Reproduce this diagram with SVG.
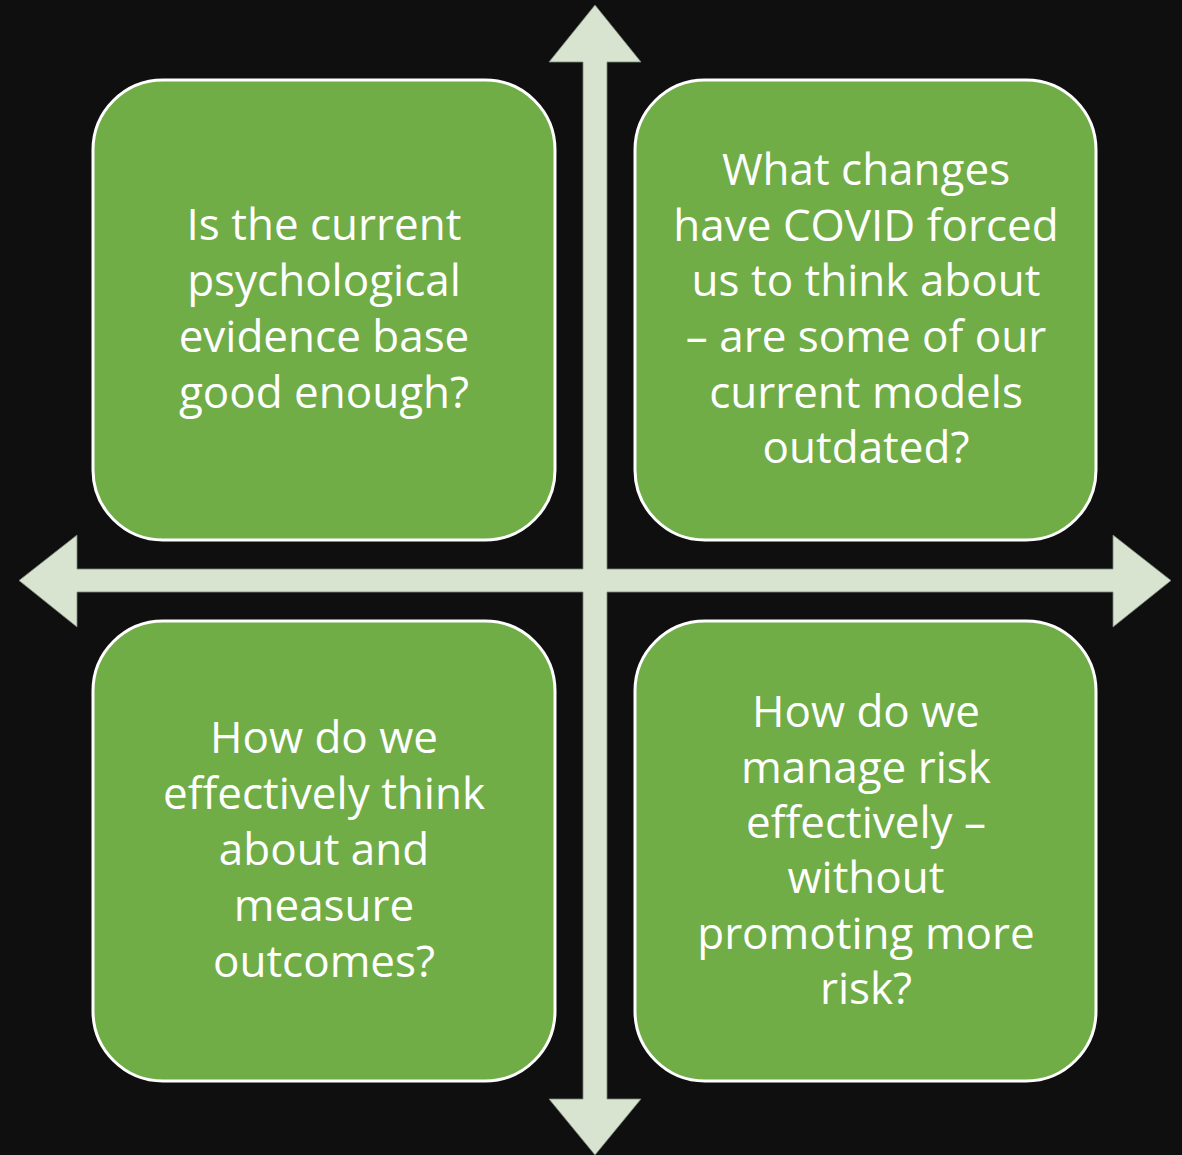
<svg xmlns="http://www.w3.org/2000/svg" width="1182" height="1155" viewBox="0 0 1182 1155">
<style>
.box{fill:#70ad47;stroke:#ffffff;stroke-width:3}
.t{fill:#ffffff;font-family:"Open Sans","Liberation Sans",sans-serif;font-size:44px;text-anchor:middle}
.arrow{fill:#d8e4d0;stroke:#7a8576;stroke-width:0.8}
</style>
<rect width="1182" height="1155" fill="#0f0f0f"/>
<g id="connectors">
<polygon class="arrow" points="595,5 641,62 607,62 607,569 1113,569 1113,535 1171,580.5 1113,627 1113,592 607,592 607,1099 641,1099 595,1155 549,1099 583,1099 583,592 77,592 77,627 19,580.5 77,535 77,569 583,569 583,62 549,62"/>
</g>
<g id="node-tl">
<rect class="box" x="93" y="80" width="462" height="460" rx="70"/>
<text class="t" x="324" y="240">Is the current</text>
<text class="t" x="324" y="296">psychological</text>
<text class="t" x="324" y="352">evidence base</text>
<text class="t" x="324" y="408">good enough?</text>
</g>
<g id="node-tr">
<rect class="box" x="635" y="80" width="461" height="460" rx="70"/>
<text class="t" x="866" y="185">What changes</text>
<text class="t" x="866" y="241">have COVID forced</text>
<text class="t" x="866" y="296">us to think about</text>
<text class="t" x="866" y="352">– are some of our</text>
<text class="t" x="866" y="408">current models</text>
<text class="t" x="866" y="463">outdated?</text>
</g>
<g id="node-bl">
<rect class="box" x="93" y="621" width="462" height="460" rx="70"/>
<text class="t" x="324" y="753">How do we</text>
<text class="t" x="324" y="809">effectively think</text>
<text class="t" x="324" y="865">about and</text>
<text class="t" x="324" y="921">measure</text>
<text class="t" x="324" y="977">outcomes?</text>
</g>
<g id="node-br">
<rect class="box" x="635" y="621" width="461" height="460" rx="70"/>
<text class="t" x="866" y="727">How do we</text>
<text class="t" x="866" y="783">manage risk</text>
<text class="t" x="866" y="838">effectively –</text>
<text class="t" x="866" y="893">without</text>
<text class="t" x="866" y="949">promoting more</text>
<text class="t" x="866" y="1004">risk?</text>
</g>
</svg>
